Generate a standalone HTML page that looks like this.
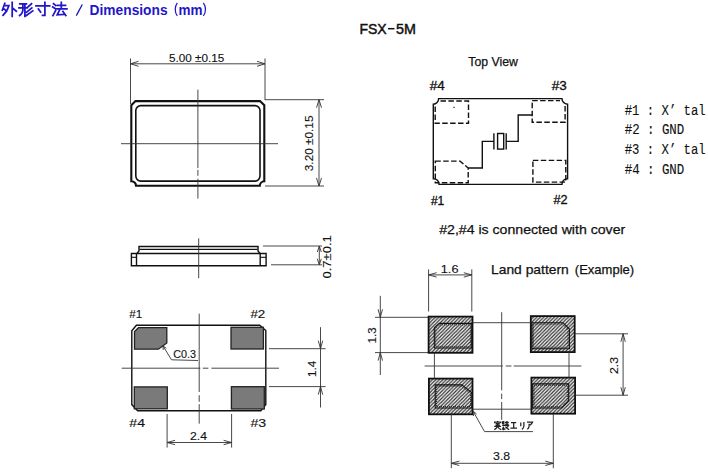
<!DOCTYPE html>
<html><head><meta charset="utf-8">
<style>
html,body{margin:0;padding:0;background:#fff;width:708px;height:474px;overflow:hidden}
svg{display:block}
text{font-family:"Liberation Sans",sans-serif;fill:#111;stroke:#111;stroke-width:0.25}
.dim{stroke-width:0.12}
.mono{font-family:"Liberation Mono",monospace;stroke-width:0.1}
.th{stroke:#333;stroke-width:0.9;fill:none}
.tk{stroke:#111;stroke-width:1.8;fill:none}
.md{stroke:#111;stroke-width:1.4;fill:none}
.ar{stroke:#333;stroke-width:0.9;fill:none}
</style></head>
<body>
<svg width="708" height="474" viewBox="0 0 708 474">
<defs>
<pattern id="hatch" patternUnits="userSpaceOnUse" width="3.5" height="3.5" x="0" y="0">
<rect width="3.5" height="3.5" fill="#fff"/>
<path d="M-1,4.5 L4.5,-1 M-1,1 L1,-1 M2.5,4.5 L4.5,2.5" stroke="#333" stroke-width="1.25"/>
</pattern>
</defs>

<!-- ===== Title ===== -->
<g id="title">
<g fill="none" stroke="#2216c8" stroke-width="1.75" stroke-linecap="square" stroke-linejoin="miter">
<path d="M4.8,3.3 L2.3,10.2 M4.6,5.6 L8.9,5.6 Q7.5,11 3,15.3 M4.3,9.2 L6.6,11.2 M12.2,2.3 L12.2,16.3 M12.7,8.1 L16.3,11.2"/>
<path d="M19.8,3.8 L26.4,3.8 M19,7.9 L27.2,7.9 M22.9,3.8 L22.9,10 Q22.6,13.5 19.6,15.5 M24.9,3.8 L24.9,16.3 M31.5,3.8 L27.5,7.4 M31.8,7.9 L26.7,12.2 M32.8,10.9 L26.4,15.5"/>
<path d="M36,5.9 L49.7,5.9 M44.9,2.4 L44.9,15.3 L42.5,15.3 M38.4,8.9 L40.6,12.1"/>
<path d="M53.5,3.8 L55.6,5.4 M52.7,7 L55.1,8.6 M52.9,15.6 L55.6,10.7 M57.5,5.4 L65.5,5.4 M61.3,2.4 L61.3,8.9 M56.2,8.9 L66.9,8.9 M59.9,9.3 L57.2,14.8 L64.2,14.3 M62.9,11.5 L65.8,15.6"/>
</g>
<line x1="82.3" y1="4.5" x2="76.3" y2="15.6" stroke="#1e14b4" stroke-width="1.3"/>
<text x="89.6" y="15.3" font-size="15" font-weight="bold" style="fill:#2216c8;stroke:none" textLength="78" lengthAdjust="spacingAndGlyphs">Dimensions</text>
<text x="178.4" y="15.3" font-size="15" font-weight="bold" style="fill:#2216c8;stroke:none" textLength="24" lengthAdjust="spacingAndGlyphs">mm</text>
<path d="M177.3,2.8 Q173,9.3 177.3,15.8 M203.4,2.8 Q207.7,9.3 203.4,15.8" fill="none" stroke="#2216c8" stroke-width="1.2"/>
</g>

<text x="359.5" y="33.8" font-size="14.1" style="stroke-width:0.45" textLength="27.2" lengthAdjust="spacingAndGlyphs">FSX</text>
<line x1="388" y1="28.7" x2="394.5" y2="28.7" stroke="#111" stroke-width="1.5"/>
<text x="396.1" y="33.8" font-size="14.1" style="stroke-width:0.45" textLength="19.9" lengthAdjust="spacingAndGlyphs">5M</text>

<!-- ===== Top outline drawing ===== -->
<g id="outline">
<!-- dimension 5.00 -->
<line class="th" x1="130.5" y1="58.5" x2="130.5" y2="104"/>
<line class="th" x1="265" y1="58.5" x2="265" y2="100"/>
<line class="th" x1="130.5" y1="63.8" x2="265" y2="63.8"/>
<path class="ar" d="M138.5,61.3 L130.5,63.8 L138.5,66.3"/>
<path class="ar" d="M257,61.3 L265,63.8 L257,66.3"/>
<text class="dim" x="169" y="61.6" font-size="10.8" textLength="55.3" lengthAdjust="spacingAndGlyphs">5.00 ±0.15</text>
<!-- box -->
<path class="tk" style="stroke-width:2.1" d="M135.5,101.1 L260,101.1 L264.3,105.3 L264.3,181.3 A4.6,4.6 0 0 0 259.8,185.8 L136,185.8 A4.6,4.6 0 0 0 131.3,181.2 L131.3,105.3 Z"/>
<rect class="md" x="135.8" y="105.6" width="124.2" height="75.5" rx="5" ry="5" style="stroke-width:1.6"/>
<path class="th" d="M197.9,89.6 L197.9,168.1 M197.9,169.9 L197.9,175.8 M197.9,178.7 L197.9,198.6"/>
<line class="th" x1="121" y1="143.7" x2="278" y2="143.7"/>
<!-- dimension 3.20 -->
<line class="th" x1="265" y1="99.7" x2="324" y2="99.7"/>
<line class="th" x1="265" y1="186" x2="324" y2="186"/>
<line class="th" x1="319" y1="99.7" x2="319" y2="186"/>
<path class="ar" d="M316.5,107.7 L319,99.7 L321.5,107.7"/>
<path class="ar" d="M316.5,178 L319,186 L321.5,178"/>
<text class="dim" transform="translate(312.8,171.2) rotate(-90)" font-size="10.8" textLength="55.7" lengthAdjust="spacingAndGlyphs">3.20 ±0.15</text>
</g>

<!-- ===== Side view ===== -->
<g id="side">
<path class="md" d="M137,253.5 L139,251 L139,246.5 L258,246.5 L258,251 L260,253.5"/>
<line class="md" x1="139.5" y1="249.4" x2="257.5" y2="249.4" style="stroke-width:1.2"/>
<path class="md" d="M131.4,253.5 L266.1,253.5 L266.1,265.8 L131.4,265.8 Z"/>
<line class="md" x1="136.5" y1="253.5" x2="136.5" y2="265.8"/>
<line class="md" x1="260.2" y1="253.5" x2="260.2" y2="265.8"/>
<line class="md" x1="131.4" y1="257.3" x2="136.5" y2="257.3" style="stroke-width:1.1"/>
<line class="md" x1="260.2" y1="257.3" x2="266.1" y2="257.3" style="stroke-width:1.1"/>
<line class="th" x1="198.7" y1="238.3" x2="198.7" y2="278.2"/>
<line class="th" x1="263" y1="246" x2="322" y2="246"/>
<line class="th" x1="271" y1="264.8" x2="322" y2="264.8"/>
<line class="th" x1="319.3" y1="246" x2="319.3" y2="264.8"/>
<path class="ar" d="M317.3,252 L319.3,246 L321.3,252"/>
<path class="ar" d="M317.3,258.8 L319.3,264.8 L321.3,258.8"/>
<text class="dim" transform="translate(330.9,278.5) rotate(-90)" font-size="11" textLength="43.3" lengthAdjust="spacingAndGlyphs">0.7±0.1</text>
</g>

<!-- ===== Bottom view ===== -->
<g id="bottom">
<path class="md" d="M136.4,325.2 L259.7,325.2 L265.8,330.5 L265.8,404.4 L260.8,410.7 L137.7,410.7 L131.8,404.6 L131.8,330.7 Z"/>
<path d="M138.5,327.7 L166.8,327.7 L166.8,342.9 L158.4,349.2 L134.5,349.2 L134.5,331.5 Z" fill="#7a7a7a" stroke="#222" stroke-width="1.3"/>
<rect x="231" y="327.3" width="32.4" height="21.7" fill="#7a7a7a" stroke="#222" stroke-width="1.3"/>
<rect x="134.3" y="386.9" width="33" height="21.9" fill="#7a7a7a" stroke="#222" stroke-width="1.3"/>
<rect x="231.4" y="386.7" width="32.9" height="22.3" fill="#7a7a7a" stroke="#222" stroke-width="1.3"/>
<path class="th" d="M199.2,313.7 L199.2,392 M199.2,395.2 L199.2,401.8 M199.2,404.2 L199.2,423.7"/>
<path class="th" d="M121.7,368.2 L200.3,368.2 M202.9,368.2 L208.4,368.2 M211.4,368.2 L279,368.2"/>
<path class="th" d="M163,345.9 L171.5,359.8 L198,360.5"/>
<path class="ar" d="M163.2,350 L163,345.9 L166.3,348.3"/>
<text class="dim" x="173.2" y="357.7" font-size="10.3" textLength="22.8" lengthAdjust="spacingAndGlyphs">C0.3</text>
<text class="dim" x="129.3" y="318.2" font-size="11" textLength="13" lengthAdjust="spacingAndGlyphs">#1</text>
<text class="dim" x="250.4" y="317.7" font-size="11" textLength="14.9" lengthAdjust="spacingAndGlyphs">#2</text>
<text class="dim" x="129.3" y="427.4" font-size="11" textLength="15.7" lengthAdjust="spacingAndGlyphs">#4</text>
<text class="dim" x="250.4" y="427" font-size="11" textLength="15.8" lengthAdjust="spacingAndGlyphs">#3</text>
<!-- 1.4 -->
<line class="th" x1="269" y1="348.7" x2="325.6" y2="348.7"/>
<line class="th" x1="269" y1="386.6" x2="325.6" y2="386.6"/>
<line class="th" x1="320.5" y1="327.2" x2="320.5" y2="407.5"/>
<path class="ar" d="M318.3,340.7 L320.5,348.7 L322.7,340.7"/>
<path class="ar" d="M318.3,394.6 L320.5,386.6 L322.7,394.6"/>
<text class="dim" transform="translate(315.7,377) rotate(-90)" font-size="10.8" textLength="16.1" lengthAdjust="spacingAndGlyphs">1.4</text>
<!-- 2.4 -->
<line class="th" x1="167.1" y1="414" x2="167.1" y2="447.6"/>
<line class="th" x1="231.6" y1="414" x2="231.6" y2="447.6"/>
<line class="th" x1="167.1" y1="442.5" x2="231.6" y2="442.5"/>
<path class="ar" d="M175.1,440.3 L167.1,442.5 L175.1,444.7"/>
<path class="ar" d="M223.6,440.3 L231.6,442.5 L223.6,444.7"/>
<text class="dim" x="190.1" y="440" font-size="10.8" textLength="16.9" lengthAdjust="spacingAndGlyphs">2.4</text>
</g>

<!-- ===== Top view (right) ===== -->
<g id="topview">
<text x="468.3" y="65.8" font-size="13" textLength="49.6" lengthAdjust="spacingAndGlyphs">Top View</text>
<text x="429.7" y="90.3" font-size="13.5" style="stroke-width:0.35" textLength="15" lengthAdjust="spacingAndGlyphs">#4</text>
<text x="551.7" y="90.3" font-size="13.5" style="stroke-width:0.35" textLength="15" lengthAdjust="spacingAndGlyphs">#3</text>
<text x="430.9" y="204.5" font-size="13.5" style="stroke-width:0.35" textLength="13.3" lengthAdjust="spacingAndGlyphs">#1</text>
<text x="553.5" y="203.6" font-size="13.5" style="stroke-width:0.35" textLength="14.1" lengthAdjust="spacingAndGlyphs">#2</text>
<path class="md" d="M438.6,98.6 L562,98.6 A5.5,5.5 0 0 0 567.6,104.2 L567.6,178.7 A5.5,5.5 0 0 0 562,184.4 L439,184.4 A5.5,5.5 0 0 0 433.3,178.7 L433.3,104.2 A5.5,5.5 0 0 0 438.6,98.6 Z"/>
<g stroke="#111" stroke-width="1.4" fill="none" stroke-dasharray="5.5,2.4">
<path d="M440.5,101 L468.5,101 L468.5,123.3 L435.2,123.3 L435.2,106"/>
<path d="M532.2,100.6 L560,100.6 M565.1,106 L565.1,122.3 L532.2,122.3 L532.2,100.6"/>
<path d="M435.3,161.1 L460.1,161.1 L468.2,168 L468.2,182.8 L435.3,182.8 Z"/>
<path d="M532.9,160.4 L565.8,160.4 L565.8,182.1 L532.9,182.1 Z"/>
</g>
<path stroke="#111" stroke-width="1.4" fill="none" d="M468.2,168 L482.3,168 L482.3,141.4 L493.9,141.4 M493.9,133.2 L493.9,149.6 M506.2,133.2 L506.2,149.6 M506.2,141.4 L518.2,141.4 L518.2,115 L532.2,115"/>
<rect x="497.6" y="133.5" width="6.1" height="15.6" stroke="#111" stroke-width="1.4" fill="none"/>
<rect x="453.3" y="106.8" width="1.4" height="1.2" fill="#333"/>
</g>

<!-- ===== Pin list ===== -->
<g id="pins">
<text class="mono" transform="translate(624.7,114.6) scale(1,1.13)" font-size="12.4" textLength="81" lengthAdjust="spacingAndGlyphs">#1 : X&#8217; tal</text>
<text class="mono" transform="translate(624.7,134) scale(1,1.13)" font-size="12.4" textLength="59.5" lengthAdjust="spacingAndGlyphs">#2 : GND</text>
<text class="mono" transform="translate(624.7,153.9) scale(1,1.13)" font-size="12.4" textLength="81" lengthAdjust="spacingAndGlyphs">#3 : X&#8217; tal</text>
<text class="mono" transform="translate(624.7,174) scale(1,1.13)" font-size="12.4" textLength="59.5" lengthAdjust="spacingAndGlyphs">#4 : GND</text>
</g>

<text x="439.2" y="234" font-size="13.5" textLength="186" lengthAdjust="spacingAndGlyphs">#2,#4 is connected with cover</text>
<text x="491" y="273.6" font-size="12.8" textLength="77.8" lengthAdjust="spacingAndGlyphs">Land pattern</text>
<text x="574.8" y="273.6" font-size="12.8" textLength="59.4" lengthAdjust="spacingAndGlyphs">(Example)</text>

<!-- ===== Land pattern ===== -->
<g id="land">
<!-- 1.6 -->
<line class="th" x1="428.6" y1="269.4" x2="428.6" y2="311.5"/>
<line class="th" x1="471.8" y1="269.4" x2="471.8" y2="311.5"/>
<line class="th" x1="428.6" y1="274.9" x2="471.8" y2="274.9"/>
<path class="ar" d="M436.6,272.7 L428.6,274.9 L436.6,277.1"/>
<path class="ar" d="M463.8,272.7 L471.8,274.9 L463.8,277.1"/>
<text class="dim" x="440.8" y="272.7" font-size="10.8" textLength="17.7" lengthAdjust="spacingAndGlyphs">1.6</text>
<!-- 1.3 -->
<line class="th" x1="375" y1="317.3" x2="428.6" y2="317.3"/>
<line class="th" x1="375" y1="352.6" x2="428.6" y2="352.6"/>
<line class="th" x1="380.3" y1="295.8" x2="380.3" y2="375"/>
<path class="ar" d="M378.1,309.3 L380.3,317.3 L382.5,309.3"/>
<path class="ar" d="M378.1,360.6 L380.3,352.6 L382.5,360.6"/>
<text class="dim" transform="translate(376.1,343.3) rotate(-90)" font-size="10.8" textLength="15.8" lengthAdjust="spacingAndGlyphs">1.3</text>
<!-- pads -->
<rect x="428.6" y="316.6" width="43.9" height="36.2" fill="url(#hatch)" stroke="#111" stroke-width="1.8"/>
<rect x="530.8" y="316.1" width="43.9" height="36" fill="url(#hatch)" stroke="#111" stroke-width="1.8"/>
<rect x="428.9" y="378.6" width="43.6" height="35.7" fill="url(#hatch)" stroke="#111" stroke-width="1.8"/>
<rect x="531.4" y="377.6" width="43.7" height="36.1" fill="url(#hatch)" stroke="#111" stroke-width="1.8"/>
<g stroke="#111" stroke-width="1.1" fill="none">
<path d="M439.3,323.4 L471.8,323.4 L471.8,348 L434.3,348 L434.3,327.7 Z"/>
<path d="M532,322.7 L563,322.7 L569.4,329 L569.4,348.7 L532,348.7 Z"/>
<path d="M435.2,384.9 L461.8,384.9 L471.9,392.8 L471.9,408 L435.2,408 Z"/>
<path d="M532.7,383.9 L568.7,383.9 L568.7,401 L561.8,408 L532.7,408 Z"/>
</g>
<g stroke="#222" stroke-width="1" fill="none" stroke-dasharray="1,1">
<path d="M439.9,324.8 L470.4,324.8 L470.4,346.6 L435.7,346.6 L435.7,328.3 Z"/>
<path d="M533.4,324.1 L562.4,324.1 L568,329.6 L568,347.3 L533.4,347.3 Z"/>
<path d="M436.6,386.3 L461.3,386.3 L470.5,393.5 L470.5,406.6 L436.6,406.6 Z"/>
<path d="M534.1,385.3 L567.3,385.3 L567.3,400.5 L561.2,406.6 L534.1,406.6 Z"/>
</g>
<!-- device outline lines -->
<line class="th" x1="472.5" y1="322.7" x2="530.8" y2="322.7"/>
<line class="th" x1="472.5" y1="409.2" x2="531.4" y2="409.2"/>
<line class="th" x1="434.4" y1="352.8" x2="434.4" y2="378.6"/>
<line class="th" x1="569" y1="352.1" x2="569" y2="377.6"/>
<!-- center lines -->
<path class="th" d="M501.7,312.2 L501.7,390.3 M501.7,393.6 L501.7,399.1 M501.7,402 L501.7,419.8"/>
<path class="th" d="M424.6,366 L502.7,366 M505.8,366 L511.5,366 M513.7,366 L581.4,366"/>
<!-- 2.3 -->
<line class="th" x1="575" y1="333.8" x2="628" y2="333.8"/>
<line class="th" x1="575" y1="395.2" x2="628" y2="395.2"/>
<line class="th" x1="623.1" y1="333.8" x2="623.1" y2="395.2"/>
<path class="ar" d="M620.9,341.8 L623.1,333.8 L625.3,341.8"/>
<path class="ar" d="M620.9,387.2 L623.1,395.2 L625.3,387.2"/>
<text class="dim" transform="translate(617.8,374.1) rotate(-90)" font-size="10.8" textLength="17.1" lengthAdjust="spacingAndGlyphs">2.3</text>
<!-- 3.8 -->
<line class="th" x1="451.3" y1="414" x2="451.3" y2="468.2"/>
<line class="th" x1="553.3" y1="414" x2="553.3" y2="468.2"/>
<line class="th" x1="451.3" y1="463.3" x2="553.3" y2="463.3"/>
<path class="ar" d="M459.3,461.1 L451.3,463.3 L459.3,465.5"/>
<path class="ar" d="M545.3,461.1 L553.3,463.3 L545.3,465.5"/>
<text class="dim" x="493" y="460.3" font-size="10.8" textLength="17.2" lengthAdjust="spacingAndGlyphs">3.8</text>
<!-- leader -->
<g fill="none" stroke="#222" stroke-width="1.25">
<path d="M497.6,420.9 L497.6,422 M494.6,423.3 L494.6,422 L500.8,422 L500.8,423.3 M495.6,423.6 L499.8,423.6 M495.6,425 L499.8,425 M494.3,426.3 L501.1,426.3 M497.6,423 L497.6,426.3 Q496.6,428.6 494.3,429.6 M497.9,427 Q499,428.8 501.2,429.6"/>
<path d="M502.6,421.2 L502.6,424.2 M503.8,421 L503.8,424.5 M505,422.3 L508.8,422.3 M506.9,421 L506.9,424.3 M505.3,424.1 L508.5,424.1 M502.2,425.4 L509.2,425.4 M505.6,425 L505.6,426 M503.6,426.6 Q503,428.5 502.1,429.6 M503.6,427.2 L503.6,429.6 L505.6,428.7 M505.4,426.7 Q507,429 509.3,429.6 M508.4,426.3 L506.8,427.6"/>
<path d="M511,422.5 L516.2,422.5 M513.7,422.5 L513.7,428.2 M510.4,428.2 L517,428.2"/>
<path d="M520.8,422.4 L520.8,426.2 M523.9,422 L523.9,426 Q523.6,428.4 521.9,429.4"/>
<path d="M527,422.1 L532.6,422.1 Q531.8,424 529.9,425.2 M529.1,423.8 L529.1,426.4 Q528.8,428.3 527.3,429.3"/>
</g>

<path class="th" d="M473,411 L484.5,431.6 L533,431.6"/>
<path class="ar" d="M473.5,416 L473,411 L476.5,414"/>
</g>
</svg>
</body></html>
